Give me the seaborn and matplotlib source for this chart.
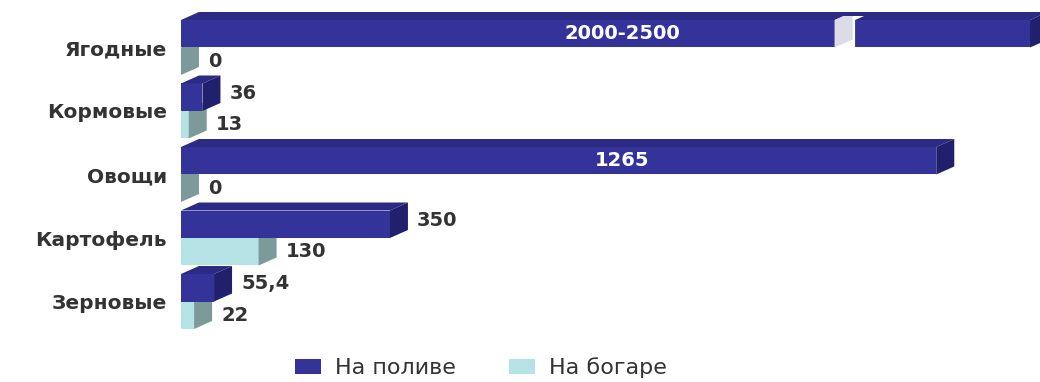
import matplotlib
matplotlib.use("Agg")
import matplotlib.pyplot as plt
from matplotlib.patches import Polygon, Patch
from matplotlib.transforms import blended_transform_factory
import pandas as pd
import seaborn as sns

# Data: area by crop, irrigated vs. rain-fed
crops = ["Ягодные", "Кормовые", "Овощи", "Картофель", "Зерновые"]
series = ["На поливе", "На богаре"]
irrigated = [2500, 36, 1265, 350, 55.4]      # berries: upper bound of the 2000-2500 range
rainfed = [0, 13, 0, 130, 22]
irrigated_labels = ["2000-2500", "36", "1265", "350", "55,4"]
rainfed_labels = ["0", "13", "0", "130", "22"]

# Styling
BLUE, BLUE_TOP, BLUE_SIDE = "#333399", "#2b2b86", "#20206c"
LIGHT, LIGHT_TOP, LIGHT_SIDE = "#b4e2e5", "#9cc6c8", "#7d9a9a"
BREAK_SIDE = "#dcdce8"
TEXT = "#333333"
XMAX = 1422                 # visible end of the value axis
BREAK = (1095, 1129)        # gap drawn in the clipped berries bar
DEPTH_PX = (18, 8)          # 3D depth of the bars, in pixels

sns.set_theme(style="white")
plt.rcParams["font.family"] = ["DejaVu Sans"]

df = pd.DataFrame({
    "crop": crops * 2,
    "area": irrigated + rainfed,
    "regime": [series[0]] * len(crops) + [series[1]] * len(crops),
})

fig = plt.figure(figsize=(10.4, 3.82), dpi=100)
ax = fig.add_axes([0.174, 0.1276, 0.8164, 0.8312])
sns.barplot(data=df, y="crop", x="area", hue="regime", order=crops,
            hue_order=series, palette=[BLUE, LIGHT], width=0.866,
            orient="h", saturation=1, errorbar=None, legend=False,
            linewidth=0, ax=ax)
ax.set_xlim(0, XMAX)
ax.set_ylim(4.5, -0.5)
for s in ax.spines.values():
    s.set_visible(False)
ax.set_xticks([])
ax.set_xlabel("")
ax.set_ylabel("")
ax.tick_params(axis="y", length=0, pad=10)
for t in ax.get_yticklabels():
    t.set_fontweight("bold")
    t.set_fontsize(14.5)
    t.set_color(TEXT)

# pixel -> data conversion for the depth offsets
sx = XMAX / ax.bbox.width
sy = 5.0 / ax.bbox.height
DX, DY = DEPTH_PX[0] * sx, DEPTH_PX[1] * sy
GAP = 9 * sx


def faces(bar, top_c, side_c, z):
    y0, h = bar.get_y(), bar.get_height()
    xe = min(bar.get_width(), XMAX)
    top = [(0, y0), (xe, y0), (xe + DX, y0 - DY), (DX, y0 - DY)]
    side = [(xe, y0), (xe, y0 + h), (xe + DX, y0 + h - DY), (xe + DX, y0 - DY)]
    ax.add_patch(Polygon(top, closed=True, fc=top_c, ec="none", zorder=z, clip_on=False))
    ax.add_patch(Polygon(side, closed=True, fc=side_c, ec="none", zorder=z, clip_on=False))
    return xe, y0, h


mid_x = blended_transform_factory(ax.transAxes, ax.transData)

# rain-fed bars sit behind the irrigated ones
for bar, lab in zip(ax.containers[1], rainfed_labels):
    bar.set_zorder(2)
    xe, y0, h = faces(bar, LIGHT_TOP, LIGHT_SIDE, 2.1)
    ax.text(xe + DX + GAP, y0 + h / 2, lab, ha="left", va="center",
            fontsize=14, fontweight="bold", color=TEXT, zorder=5)

for bar, lab in zip(ax.containers[0], irrigated_labels):
    bar.set_zorder(3)
    xe, y0, h = faces(bar, BLUE_TOP, BLUE_SIDE, 3.1)
    if bar.get_width() > XMAX:
        # broken bar: white gap with a lit end face
        a, b = BREAK
        gap = [(a, y0 + h), (b, y0 + h), (b, y0), (b + DX, y0 - DY),
               (a + DX, y0 - DY), (a, y0)]
        ax.add_patch(Polygon(gap, closed=True, fc="white", ec="none", zorder=3.2))
        end = [(a, y0), (a, y0 + h), (a + DX, y0 + h - DY), (a + DX, y0 - DY)]
        ax.add_patch(Polygon(end, closed=True, fc=BREAK_SIDE, ec="none", zorder=3.3))
    if bar.get_width() > 1000:
        ax.text(0.52, y0 + h / 2, lab, transform=mid_x, ha="center", va="center",
                fontsize=14, fontweight="bold", color="white", zorder=5)
    else:
        ax.text(xe + DX + GAP, y0 + h / 2 - DY / 2, lab, ha="left", va="center",
                fontsize=14, fontweight="bold", color=TEXT, zorder=5)

handles = [Patch(fc=BLUE, ec="none"), Patch(fc=LIGHT, ec="none")]
fig.legend(handles, series, loc="center", bbox_to_anchor=(481 / 1040, 1 - 368 / 382),
           ncol=2, frameon=False, fontsize=16, handlelength=1.15, handleheight=0.7,
           handletextpad=0.65, columnspacing=2.4, labelcolor=TEXT,
           borderpad=0.1)

fig.savefig("out.png", dpi=100, facecolor="white")
